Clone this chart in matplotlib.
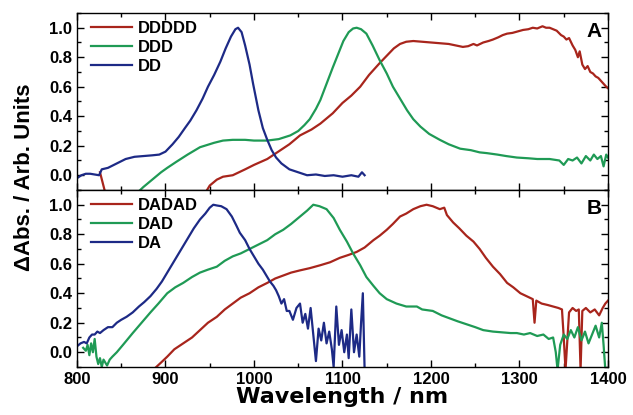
import numpy as np
import matplotlib
matplotlib.use('Agg')
import matplotlib.pyplot as plt
from matplotlib.ticker import MultipleLocator

nan = np.nan

# panel A
wl_ddddd = [826, 829, 832, nan, 945, 950, 958, 965, 976, 990, 1000, 1015, 1030, 1040, 1052, 1065, 1075, 1089, 1100, 1110,
            1120, 1130, 1142, 1150, 1158, 1165, 1172, 1180, 1190, 1200, 1210, 1220, 1228, 1236, 1242, 1248, 1252, 1259,
            1265, 1270, 1276, 1281, 1286, 1292, 1298, 1304, 1310, 1315, 1320, 1326, 1330, 1334, 1338, 1342, 1347, 1350,
            1353, 1356, 1360, 1363, 1366, 1368, 1371, 1374, 1377, 1380, 1383, 1386, 1389, 1392, 1395, 1398, 1400]
ab_ddddd = [0.02, -0.05, -0.12, nan, -0.12, -0.07, -0.03, -0.01, 0.0, 0.04, 0.07, 0.11, 0.17, 0.21, 0.27, 0.31, 0.35, 0.42,
            0.49, 0.54, 0.6, 0.68, 0.76, 0.81, 0.86, 0.89, 0.905, 0.91, 0.905, 0.9, 0.895, 0.89, 0.88, 0.87, 0.875, 0.89,
            0.88, 0.9, 0.91, 0.92, 0.935, 0.95, 0.96, 0.965, 0.975, 0.985, 0.99, 1.0, 0.995, 1.01, 1.0, 1.0, 0.99, 0.98,
            0.95, 0.94, 0.92, 0.93, 0.88, 0.85, 0.8, 0.84, 0.75, 0.72, 0.74, 0.7, 0.69, 0.67, 0.66, 0.64, 0.62, 0.6, 0.59]

wl_ddd = [868, 875, 885, 895, 902, 912, 925, 939, 955, 965, 976, 990, 1000, 1015, 1028, 1041, 1050, 1057, 1063, 1070,
          1075, 1082, 1089, 1095, 1101, 1107, 1112, 1116, 1121, 1127, 1134, 1142, 1150, 1157, 1165, 1173, 1180, 1188,
          1198, 1210, 1220, 1233, 1245, 1255, 1263, 1275, 1285, 1297, 1310, 1320, 1334, 1345, 1350, 1355, 1360, 1365,
          1370, 1375, 1380, 1384, 1388, 1392, 1395, 1398, 1400]
ab_ddd = [-0.12, -0.08, -0.03, 0.02, 0.05, 0.09, 0.14, 0.19, 0.22, 0.235, 0.24, 0.24, 0.235, 0.235, 0.245, 0.27, 0.3,
          0.34, 0.38, 0.45, 0.51, 0.62, 0.73, 0.82, 0.91, 0.97, 0.995, 1.0, 0.99, 0.96, 0.88, 0.78, 0.69, 0.6, 0.52,
          0.44, 0.38, 0.33, 0.28, 0.24, 0.21, 0.18, 0.17, 0.155, 0.15, 0.14, 0.13, 0.12, 0.115, 0.11, 0.11, 0.1, 0.07,
          0.11, 0.1, 0.12, 0.08, 0.13, 0.1, 0.14, 0.11, 0.13, 0.06, 0.14, 0.12]

wl_dd = [800, 805, 810, 815, 820, 825, 828, 835, 845, 855, 865, 875, 885, 893, 900, 908, 915, 922, 928, 935, 942, 948,
         955, 962, 968, 974, 979, 982, 986, 990, 995, 999, 1005, 1010, 1015, 1020, 1025, 1031, 1040, 1050, 1060, 1070,
         1080, 1090, 1100, 1110, 1118, 1122, 1125]
ab_dd = [-0.02, 0.0, 0.01, 0.01, 0.005, 0.0, 0.04, 0.05, 0.08, 0.11, 0.125, 0.13, 0.135, 0.14, 0.16, 0.21, 0.26, 0.32,
         0.37, 0.44, 0.52, 0.6, 0.68, 0.77, 0.86, 0.94, 0.99, 1.0, 0.97, 0.88, 0.75, 0.62, 0.44, 0.32, 0.24, 0.17,
         0.12, 0.08, 0.04, 0.02, 0.0, 0.005, -0.005, 0.0, -0.01, 0.0, -0.01, 0.02, 0.0]

# panel B
wl_dadad = [886, 895, 902, 910, 920, 930, 939, 948, 958, 967, 976, 985, 995, 1005, 1015, 1024, 1033, 1042, 1052, 1063,
            1075, 1086, 1097, 1107, 1116, 1125, 1135, 1142, 1150, 1157, 1165, 1172, 1180, 1188, 1195, 1202, 1210, 1215,
            1218, 1225, 1232, 1240, 1248, 1255, 1262, 1270, 1278, 1286, 1293, 1301, 1308, 1315, 1317, 1319, 1325, 1332,
            1338, 1344, 1348, 1350, 1352, 1356, 1360, 1364, 1367, 1369, 1371, 1375, 1380, 1385, 1390, 1394, 1397, 1400]
ab_dadad = [-0.12, -0.07, -0.03, 0.02, 0.06, 0.1, 0.15, 0.2, 0.24, 0.29, 0.33, 0.37, 0.4, 0.44, 0.47, 0.5, 0.52, 0.54,
            0.555, 0.57, 0.59, 0.61, 0.64, 0.66, 0.68, 0.71, 0.76, 0.79, 0.83, 0.87, 0.92, 0.94, 0.97, 0.99, 1.0, 0.99,
            0.97, 0.98, 0.93, 0.88, 0.84, 0.79, 0.75, 0.7, 0.64, 0.58, 0.53, 0.47, 0.44, 0.4, 0.38, 0.36, 0.2, 0.35,
            0.33, 0.32, 0.31, 0.3, 0.29, 0.1, -0.12, 0.27, 0.3, 0.28, 0.29, -0.12, 0.28, 0.3, 0.27, 0.29, 0.25, 0.3,
            0.33, 0.35]

wl_dad = [807, 810, 812, 814, 816, 818, 820, 822, 824, 826, 828, 830, 832, 834, 837, 840, 845, 852, 863, 873, 883, 892,
          902, 911, 920, 930, 939, 948, 958, 967, 976, 985, 995, 1005, 1015, 1024, 1033, 1042, 1052, 1060, 1067, 1074,
          1082, 1090, 1097, 1105, 1112, 1120, 1127, 1135, 1142, 1150, 1161, 1172, 1184, 1190, 1202, 1212, 1221, 1230,
          1240, 1250, 1259, 1270, 1280, 1290, 1297, 1305, 1312, 1320, 1327, 1333, 1338, 1341, 1343, 1346, 1350, 1354,
          1358, 1362, 1366, 1370, 1374, 1378, 1382, 1386, 1390, 1393, 1395, 1397]
ab_dad = [0.03, 0.01, 0.05, -0.02, 0.06, 0.0, 0.09, -0.03, -0.08, -0.04, -0.1, -0.05, -0.07, -0.09, -0.05, -0.03, 0.0,
          0.05, 0.13, 0.2, 0.27, 0.33, 0.4, 0.44, 0.47, 0.51, 0.54, 0.56, 0.58, 0.62, 0.65, 0.67, 0.7, 0.73, 0.76, 0.8,
          0.83, 0.87, 0.92, 0.96, 1.0, 0.99, 0.97, 0.91, 0.83, 0.75, 0.67, 0.59, 0.51, 0.45, 0.4, 0.36, 0.33, 0.31,
          0.31, 0.29, 0.28, 0.25, 0.23, 0.21, 0.19, 0.17, 0.15, 0.14, 0.135, 0.13, 0.13, 0.12, 0.13, 0.11, 0.12, 0.09,
          0.1, 0.0, -0.12, 0.05, 0.12, 0.09, 0.15, 0.1, 0.17, 0.08, 0.14, 0.06, 0.12, 0.18, 0.1, 0.2, 0.05, -0.12]

wl_da = [800, 804, 808, 811, 814, 817, 820, 823, 826, 830, 835, 840, 845, 850, 856, 863, 870, 876, 883, 890, 896, 902,
         908, 914, 920, 926, 932, 939, 945, 950, 954, 958, 963, 969, 975, 980, 984, 990, 995, 1000, 1005, 1010, 1014,
         1018, 1022, 1025, 1028, 1031, 1034, 1037, 1040, 1044, 1048, 1052, 1055, 1058, 1061, 1064, 1067, 1070, 1073,
         1076, 1079, 1082, 1085, 1088, 1090, 1093, 1096, 1099, 1102, 1105, 1107, 1110, 1113, 1116, 1119, 1121, 1123,
         1125]
ab_da = [0.04, 0.06, 0.07, 0.06, 0.1, 0.12, 0.12, 0.14, 0.13, 0.15, 0.17, 0.17, 0.2, 0.22, 0.24, 0.27, 0.31, 0.34, 0.38,
         0.43, 0.48, 0.54, 0.6, 0.66, 0.72, 0.78, 0.84, 0.9, 0.94, 0.98, 1.0, 0.995, 0.99, 0.97, 0.92, 0.86, 0.81,
         0.76, 0.7, 0.65, 0.6, 0.56, 0.52, 0.48, 0.45, 0.42, 0.38, 0.33, 0.36, 0.28, 0.28, 0.22, 0.3, 0.33, 0.2, 0.26,
         0.16, 0.3, 0.12, -0.06, 0.16, 0.08, 0.2, 0.06, 0.14, 0.02, -0.1, 0.31, 0.05, 0.15, 0.0, 0.12, -0.04, 0.29,
         0.0, 0.12, -0.03, 0.2, 0.4, -0.12]

red = '#a8251c'
green = '#1f9a55'
blue = '#1d2a86'

plt.rcParams['font.family'] = ['Liberation Sans', 'DejaVu Sans']
plt.rcParams['font.weight'] = 'bold'
plt.rcParams['axes.labelweight'] = 'bold'

fig = plt.figure(figsize=(6.33, 4.15), dpi=100)
axA = fig.add_axes([0.1216, 0.5422, 0.8389, 0.4265])
axB = fig.add_axes([0.1216, 0.1157, 0.8389, 0.4265], sharex=axA)

panels = [
    (axA, [(wl_ddddd, ab_ddddd, red, 'DDDDD'), (wl_ddd, ab_ddd, green, 'DDD'), (wl_dd, ab_dd, blue, 'DD')], 'A'),
    (axB, [(wl_dadad, ab_dadad, red, 'DADAD'), (wl_dad, ab_dad, green, 'DAD'), (wl_da, ab_da, blue, 'DA')], 'B'),
]

for ax, series, tag in panels:
    for x, y, c, lab in series:
        ax.plot(x, y, color=c, lw=1.6, label=lab)
    ax.set_xlim(800, 1400)
    ax.set_ylim(-0.1, 1.1)
    ax.xaxis.set_major_locator(MultipleLocator(100))
    ax.xaxis.set_minor_locator(MultipleLocator(50))
    ax.yaxis.set_major_locator(MultipleLocator(0.2))
    ax.yaxis.set_minor_locator(MultipleLocator(0.1))
    ax.tick_params(which='both', direction='in', top=True, right=True, labelsize=12)
    ax.tick_params(which='major', length=5, width=1)
    ax.tick_params(which='minor', length=3, width=1)
    ax.set_yticks([0.0, 0.2, 0.4, 0.6, 0.8, 1.0])
    ax.set_yticklabels(['0.0', '0.2', '0.4', '0.6', '0.8', '1.0'])
    for s in ax.spines.values():
        s.set_linewidth(1.0)
    ax.legend(loc='upper left', frameon=False, fontsize=12, handlelength=2.5, handletextpad=0.35,
              labelspacing=0.22, borderaxespad=0.1, bbox_to_anchor=(0.01, 1.0))
    ax.text(0.988, 0.893, tag, transform=ax.transAxes, ha='right', va='center', fontsize=15, fontweight='bold')

axA.tick_params(labelbottom=False)
axB.set_xticks([800, 900, 1000, 1100, 1200, 1300, 1400])
axB.set_xlabel('Wavelength / nm', fontsize=16, labelpad=0, family='DejaVu Sans')
fig.text(0.038, 0.5735, 'ΔAbs. / Arb. Units', rotation=90, ha='center', va='center', fontsize=16, fontweight='bold')

fig.savefig('out.png', dpi=100)
